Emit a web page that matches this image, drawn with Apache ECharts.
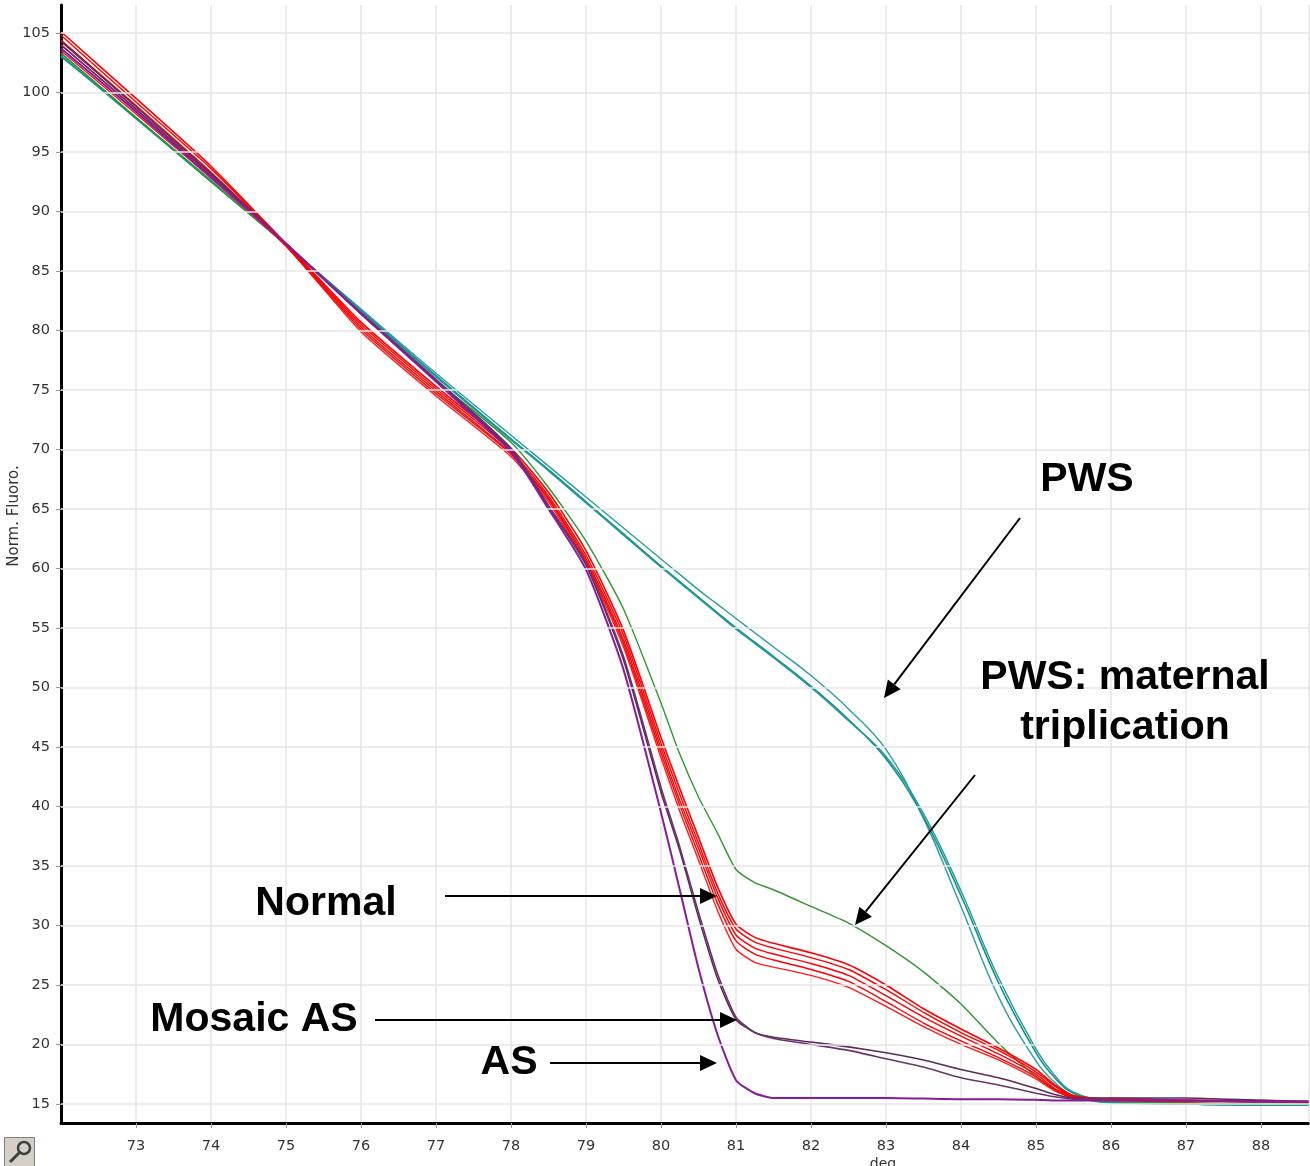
<!DOCTYPE html>
<html>
<head>
<meta charset="utf-8">
<script src="https://cdn.jsdelivr.net/npm/echarts@6/dist/echarts.min.js"></script>
<style>
  html, body { margin: 0; padding: 0; background: #fff; }
  #chart { width: 1310px; height: 1166px; }
</style>
</head>
<body>
<div id="chart"></div>
<script>
// temperature points (deg)
const temps = [72, 73, 74, 75, 76, 77, 78, 78.5, 79, 79.5, 80, 80.25, 80.5, 80.75, 81, 81.25, 81.5, 82, 82.5, 83, 83.5, 84, 84.5, 85, 85.25, 85.5, 86, 87, 88, 88.63];

// PWS (teal)
const pwsA = [103.0, 97.9, 92.6, 87.2, 81.8, 76.4, 71.2, 68.6, 66.0, 63.4, 60.8, 59.5, 58.2, 57.0, 55.8, 54.6, 53.4, 51.0, 48.2, 44.8, 39.0, 31.6, 24.0, 18.6, 16.8, 15.7, 15.1, 15.0, 14.9, 14.9];
const pwsB = [103.1, 97.8, 92.5, 87.2, 81.7, 76.2, 70.9, 68.3, 65.6, 62.9, 60.2, 58.9, 57.6, 56.3, 55.0, 53.8, 52.6, 50.1, 47.3, 44.0, 39.1, 32.5, 25.2, 19.3, 17.2, 15.9, 15.1, 15.0, 14.9, 14.9];
const pwsC = [103.3, 97.9, 92.6, 87.2, 81.6, 76.1, 70.8, 68.2, 65.5, 62.8, 60.1, 58.8, 57.5, 56.2, 54.9, 53.7, 52.5, 50.0, 47.2, 44.2, 39.4, 32.9, 25.6, 19.6, 17.4, 16.0, 15.2, 15.0, 14.9, 14.9];

// PWS: maternal triplication (green)
const pwsTrip = [103.3, 97.9, 92.5, 87.2, 81.4, 75.8, 70.6, 66.8, 62.3, 56.6, 48.7, 44.4, 40.8, 37.8, 34.7, 33.6, 33.0, 31.6, 30.2, 28.3, 26.1, 23.4, 20.1, 17.3, 16.2, 15.5, 15.2, 15.1, 15.0, 15.0];

// Normal (red)
const normal1 = [105.1, 99.5, 93.8, 87.3, 80.7, 75.3, 70.1, 66.4, 61.5, 54.8, 45.8, 41.5, 37.4, 33.3, 30.1, 29.0, 28.5, 27.7, 26.7, 25.0, 23.0, 21.3, 19.7, 17.9, 16.6, 15.7, 15.4, 15.3, 15.3, 15.2];
const normal2 = [104.8, 99.2, 93.6, 87.2, 80.5, 75.1, 69.9, 66.1, 61.1, 54.4, 45.3, 41.0, 36.9, 32.8, 29.7, 28.6, 28.1, 27.3, 26.3, 24.6, 22.7, 21.0, 19.5, 17.7, 16.5, 15.6, 15.4, 15.3, 15.2, 15.2];
const normal3 = [104.4, 98.9, 93.3, 87.2, 80.3, 74.9, 69.7, 65.9, 60.8, 54.0, 44.9, 40.5, 36.5, 32.4, 29.2, 28.1, 27.6, 26.8, 25.8, 24.1, 22.3, 20.7, 19.2, 17.5, 16.3, 15.6, 15.3, 15.3, 15.2, 15.2];
const normal4 = [104.0, 98.6, 93.1, 87.1, 80.1, 74.7, 69.6, 65.8, 60.6, 53.7, 44.5, 40.1, 36.0, 31.9, 28.7, 27.6, 27.1, 26.3, 25.3, 23.6, 21.8, 20.3, 18.9, 17.3, 16.2, 15.5, 15.3, 15.2, 15.2, 15.1];
const normal5 = [103.5, 98.2, 92.8, 87.1, 79.9, 74.5, 69.4, 65.6, 60.4, 53.4, 44.1, 39.6, 35.5, 31.3, 28.0, 26.9, 26.5, 25.8, 24.8, 23.2, 21.5, 20.0, 18.7, 17.1, 16.1, 15.5, 15.3, 15.2, 15.2, 15.1];

// Mosaic AS (dark purple)
const mosaic1 = [104.3, 98.8, 93.2, 87.3, 81.4, 75.8, 70.0, 65.2, 60.3, 52.3, 41.2, 36.3, 30.7, 25.6, 22.1, 21.0, 20.6, 20.2, 19.8, 19.3, 18.7, 17.9, 17.2, 16.3, 15.8, 15.5, 15.5, 15.5, 15.3, 15.2];
const mosaic2 = [104.0, 98.6, 93.0, 87.3, 81.5, 75.9, 70.1, 65.3, 60.4, 52.6, 41.6, 36.6, 31.1, 26.0, 22.3, 21.0, 20.5, 20.0, 19.5, 18.8, 18.1, 17.2, 16.6, 15.9, 15.6, 15.4, 15.5, 15.3, 15.2, 15.2];

// AS (purple)
const asCurve = [103.7, 98.4, 92.9, 87.3, 81.4, 75.7, 69.8, 65.0, 59.9, 51.5, 39.5, 33.0, 26.4, 20.9, 17.0, 15.9, 15.5, 15.5, 15.5, 15.5, 15.45, 15.4, 15.4, 15.35, 15.3, 15.3, 15.3, 15.3, 15.2, 15.2];

const yTicks = [15, 20, 25, 30, 35, 40, 45, 50, 55, 60, 65, 70, 75, 80, 85, 90, 95, 100, 105];

const curves = [
  ['PWS', pwsA, '#2a9d9d', 1.4, 0.4],
  ['PWS', pwsB, '#178f8f', 1.6, 0.4],
  ['PWS', pwsC, '#1f9a9a', 1.4, 0.4],
  ['PWS: maternal triplication', pwsTrip, '#2e972e', 1.4, 0.2],
  ['Normal', normal5, '#ff1a1a', 1.4, 0.2],
  ['Normal', normal4, '#ff0000', 1.4, 0.2],
  ['Normal', normal3, '#ff0000', 1.4, 0.2],
  ['Normal', normal2, '#ff0000', 1.4, 0.2],
  ['Normal', normal1, '#ff0000', 1.6, 0.2],
  ['Mosaic AS', mosaic1, '#5c2a5c', 1.6, 0.2],
  ['Mosaic AS', mosaic2, '#6a3468', 1.6, 0.2],
  ['AS', asCurve, '#8a1a9c', 2, 0.2]
];

const chart = echarts.init(document.getElementById('chart'));

const series = curves.map(function (c) {
  return {
    name: c[0],
    type: 'line',
    data: temps.map(function (t, i) { return [t, c[1][i]]; }),
    showSymbol: false,
    smooth: c[4],
    lineStyle: { color: c[2], width: c[3] },
    itemStyle: { color: c[2] },
    z: 3,
    silent: true
  };
});

// horizontal grid lines
series.unshift({
  type: 'line',
  data: [],
  z: 1,
  silent: true,
  markLine: {
    silent: true,
    symbol: 'none',
    label: { show: false },
    lineStyle: { color: '#e6e6e6', width: 1.5, type: 'solid' },
    data: yTicks.map(function (v) { return { yAxis: v }; })
  }
});

function arrow(x1, y1, x2, y2) {
  const ang = Math.atan2(y2 - y1, x2 - x1);
  const len = 17, half = 8;
  const bx = x2 - len * Math.cos(ang), by = y2 - len * Math.sin(ang);
  const px = -Math.sin(ang) * half, py = Math.cos(ang) * half;
  return [
    { type: 'line', shape: { x1: x1, y1: y1, x2: bx, y2: by }, style: { stroke: '#000', lineWidth: 2 }, z: 10 },
    { type: 'polygon', shape: { points: [[x2, y2], [bx + px, by + py], [bx - px, by - py]] }, style: { fill: '#000' }, z: 10 }
  ];
}

function label(text, x, y) {
  return {
    type: 'text', x: x, y: y, z: 10,
    style: {
      text: text, fill: '#000', align: 'center', verticalAlign: 'middle',
      font: 'bold 41px "Liberation Sans", Arial, sans-serif'
    }
  };
}

const graphics = [].concat(
  label('PWS', 1087, 480),
  label('PWS: maternal', 1125, 678),
  label('triplication', 1125, 728),
  label('Normal', 326, 904),
  label('Mosaic AS', 254, 1020),
  label('AS', 509, 1063),
  arrow(1020, 518, 884, 698),
  arrow(975, 775, 855, 925),
  arrow(445, 896, 717, 896),
  arrow(375, 1020, 737, 1020),
  arrow(550, 1063, 717, 1063),
  [
    {
      type: 'text', x: 14, y: 516, rotation: Math.PI / 2,
      style: { text: 'Norm. Fluoro.', fill: '#333', align: 'center', verticalAlign: 'middle', font: '15px "DejaVu Sans", sans-serif' }
    },
    {
      type: 'text', x: 883, y: 1157,
      style: { text: 'deg', fill: '#333', align: 'center', verticalAlign: 'top', font: '14px "DejaVu Sans", sans-serif' }
    },
    // settings button in the corner
    { type: 'rect', shape: { x: 4.5, y: 1137.5, width: 30, height: 29 }, style: { fill: '#d4d0c8', stroke: '#808080', lineWidth: 1 } },
    { type: 'circle', shape: { cx: 24, cy: 1148, r: 6 }, style: { fill: 'none', stroke: '#404040', lineWidth: 2.5 } },
    { type: 'line', shape: { x1: 20, y1: 1152, x2: 10, y2: 1162 }, style: { stroke: '#404040', lineWidth: 3 } }
  ]
);

chart.setOption({
  animation: false,
  backgroundColor: '#fff',
  grid: { left: 61, right: 1.75, top: 5, bottom: 43, containLabel: false },
  xAxis: {
    type: 'value',
    min: 72,
    max: 88.63,
    interval: 1,
    axisLine: { show: true, onZero: false, lineStyle: { color: '#000', width: 3 } },
    axisTick: { show: true, length: 5, lineStyle: { color: '#999' } },
    axisLabel: { showMinLabel: false, showMaxLabel: false, margin: 16, color: '#333', fontSize: 14.5, fontFamily: 'DejaVu Sans' },
    splitLine: { show: true, lineStyle: { color: '#e6e6e6', width: 1.5 } }
  },
  yAxis: {
    type: 'value',
    min: 13.4,
    max: 107.35,
    axisLine: { show: true, onZero: false, lineStyle: { color: '#000', width: 3 } },
    axisTick: { show: true, length: 5, customValues: yTicks, lineStyle: { color: '#999' } },
    axisLabel: { customValues: yTicks, margin: 11, color: '#333', fontSize: 14.5, fontFamily: 'DejaVu Sans' },
    splitLine: { show: false }
  },
  series: series,
  graphic: graphics
});
</script>
</body>
</html>
